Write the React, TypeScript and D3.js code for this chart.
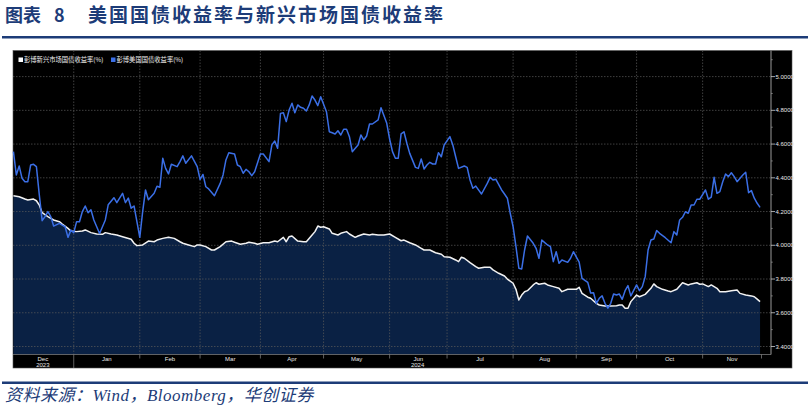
import React from 'react';
import * as d3 from 'd3';

// ---------- DATA ----------
const usDates = [
  '2023-12-01','2023-12-04','2023-12-05','2023-12-06','2023-12-07','2023-12-08','2023-12-11','2023-12-12','2023-12-13','2023-12-14','2023-12-15','2023-12-18','2023-12-19','2023-12-20','2023-12-21','2023-12-25','2023-12-26','2023-12-27','2023-12-28','2023-12-29',
  '2024-01-01','2024-01-02','2024-01-03','2024-01-04','2024-01-05','2024-01-08','2024-01-09','2024-01-10','2024-01-12','2024-01-16','2024-01-17','2024-01-19','2024-01-22','2024-01-24','2024-01-25','2024-01-26','2024-01-29','2024-01-30',
  '2024-02-01','2024-02-02','2024-02-05','2024-02-06','2024-02-08','2024-02-09','2024-02-12','2024-02-13','2024-02-14','2024-02-15','2024-02-16','2024-02-20','2024-02-21','2024-02-22','2024-02-23','2024-02-27','2024-02-29',
  '2024-03-01','2024-03-04','2024-03-05','2024-03-06','2024-03-08','2024-03-12','2024-03-13','2024-03-14','2024-03-15','2024-03-19','2024-03-20','2024-03-21','2024-03-22','2024-03-25','2024-03-26','2024-03-27','2024-03-28',
  '2024-04-01','2024-04-02','2024-04-04','2024-04-05','2024-04-08','2024-04-09','2024-04-10','2024-04-11','2024-04-12','2024-04-15','2024-04-16','2024-04-17','2024-04-18','2024-04-19','2024-04-22','2024-04-23','2024-04-24','2024-04-25','2024-04-26','2024-04-29','2024-04-30',
  '2024-05-02','2024-05-03','2024-05-06','2024-05-07','2024-05-08','2024-05-09','2024-05-10','2024-05-13','2024-05-14','2024-05-15','2024-05-17','2024-05-20','2024-05-21','2024-05-22','2024-05-23','2024-05-24','2024-05-28','2024-05-29','2024-05-31',
  '2024-06-03','2024-06-04','2024-06-05','2024-06-06','2024-06-07','2024-06-10','2024-06-11','2024-06-12','2024-06-14','2024-06-17','2024-06-18','2024-06-19','2024-06-20','2024-06-21','2024-06-24','2024-06-25','2024-06-26','2024-06-27','2024-06-28',
  '2024-07-02','2024-07-03','2024-07-04','2024-07-05','2024-07-09','2024-07-10','2024-07-11','2024-07-12','2024-07-15','2024-07-17','2024-07-19','2024-07-22','2024-07-23','2024-07-24','2024-07-26','2024-07-29','2024-07-30','2024-07-31',
  '2024-08-01','2024-08-02','2024-08-05','2024-08-06','2024-08-07','2024-08-08','2024-08-12','2024-08-13','2024-08-14','2024-08-15','2024-08-19','2024-08-20','2024-08-21','2024-08-22','2024-08-23','2024-08-26','2024-08-28','2024-08-29','2024-08-30',
  '2024-09-03','2024-09-04','2024-09-06','2024-09-09','2024-09-10','2024-09-11','2024-09-12','2024-09-13','2024-09-16','2024-09-17','2024-09-18','2024-09-19','2024-09-20','2024-09-23','2024-09-24','2024-09-25','2024-09-26','2024-09-27',
  '2024-10-01','2024-10-02','2024-10-03','2024-10-04','2024-10-07','2024-10-08','2024-10-09','2024-10-10','2024-10-11','2024-10-15','2024-10-17','2024-10-18','2024-10-21','2024-10-22','2024-10-23','2024-10-24','2024-10-25','2024-10-28','2024-10-29','2024-10-30','2024-10-31',
  '2024-11-04','2024-11-05','2024-11-06','2024-11-07','2024-11-08','2024-11-11','2024-11-12','2024-11-13','2024-11-14','2024-11-15','2024-11-18','2024-11-19','2024-11-21','2024-11-22','2024-11-25','2024-11-26','2024-11-27','2024-11-28','2024-11-29',
];
const usYield = [
  4.555,4.417,4.47,4.397,4.377,4.377,4.476,4.48,4.466,4.30,4.146,4.17,4.20,4.17,4.114,4.13,4.12,4.11,4.047,4.09,
  4.075,4.14,4.14,4.20,4.233,4.193,4.21,4.15,4.07,4.15,4.24,4.282,4.253,4.308,4.253,4.28,4.22,4.233,
  4.047,4.20,4.328,4.27,4.308,4.35,4.344,4.516,4.456,4.423,4.48,4.466,4.496,4.53,4.486,4.53,4.466,
  4.39,4.42,4.347,4.334,4.294,4.367,4.417,4.506,4.549,4.541,4.476,4.466,4.427,4.45,4.436,4.413,4.436,
  4.541,4.541,4.496,4.595,4.618,4.575,4.782,4.786,4.733,4.802,4.842,4.786,4.832,4.818,4.812,4.796,4.832,4.885,4.861,4.828,4.881,
  4.792,4.673,4.667,4.66,4.679,4.654,4.688,4.688,4.644,4.555,4.595,4.654,4.624,4.648,4.719,4.719,4.743,4.816,4.723,
  4.63,4.555,4.516,4.516,4.66,4.673,4.605,4.545,4.462,4.456,4.512,4.452,4.476,4.492,4.482,4.482,4.549,4.525,4.595,
  4.644,4.595,4.525,4.456,4.47,4.462,4.387,4.338,4.351,4.304,4.367,4.403,4.387,4.391,4.328,4.304,4.279,4.19,
  4.11,3.992,3.864,3.86,3.972,4.055,4.012,3.982,3.923,4.031,4.002,3.992,3.903,3.962,3.893,3.913,3.899,3.923,3.962,
  3.90,3.804,3.78,3.717,3.719,3.656,3.686,3.70,3.656,3.627,3.656,3.711,3.705,3.711,3.68,3.731,3.761,3.70,
  3.765,3.731,3.755,3.814,3.972,4.031,4.037,4.087,4.071,4.045,4.015,4.081,4.061,4.15,4.166,4.199,4.19,4.239,4.239,4.273,4.273,
  4.328,4.273,4.285,4.403,4.308,4.318,4.377,4.423,4.407,4.43,4.407,4.377,4.417,4.433,4.312,4.324,4.279,4.249,4.225,
];

const emDates = [
  '2023-12-01','2023-12-05','2023-12-07','2023-12-08','2023-12-12','2023-12-13','2023-12-14','2023-12-15','2023-12-19','2023-12-21','2023-12-25','2023-12-26','2023-12-28','2023-12-29',
  '2024-01-02','2024-01-04','2024-01-05','2024-01-09','2024-01-11','2024-01-15','2024-01-16','2024-01-18','2024-01-22','2024-01-24','2024-01-29','2024-01-30','2024-01-31',
  '2024-02-02','2024-02-06','2024-02-08','2024-02-09','2024-02-13','2024-02-15','2024-02-19','2024-02-21','2024-02-22','2024-02-26','2024-02-28','2024-02-29',
  '2024-03-01','2024-03-05','2024-03-07','2024-03-08','2024-03-12','2024-03-14','2024-03-18','2024-03-19','2024-03-21','2024-03-25','2024-03-26','2024-03-28','2024-03-29',
  '2024-04-02','2024-04-04','2024-04-08','2024-04-09','2024-04-11','2024-04-12','2024-04-15','2024-04-16','2024-04-18','2024-04-22','2024-04-23','2024-04-25','2024-04-26','2024-04-29','2024-04-30',
  '2024-05-01','2024-05-03','2024-05-06','2024-05-08','2024-05-09','2024-05-13','2024-05-14','2024-05-16','2024-05-17','2024-05-21','2024-05-23','2024-05-24','2024-05-28','2024-05-30',
  '2024-06-03','2024-06-05','2024-06-07','2024-06-10','2024-06-12','2024-06-14','2024-06-18','2024-06-19','2024-06-21','2024-06-25','2024-06-27','2024-06-28',
  '2024-07-02','2024-07-04','2024-07-05','2024-07-08','2024-07-09','2024-07-11','2024-07-15','2024-07-16','2024-07-18','2024-07-22','2024-07-23','2024-07-25','2024-07-29','2024-07-30',
  '2024-08-01','2024-08-02','2024-08-05','2024-08-06','2024-08-07','2024-08-08','2024-08-12','2024-08-13','2024-08-14','2024-08-16','2024-08-19','2024-08-21','2024-08-23','2024-08-26','2024-08-28','2024-08-29',
  '2024-09-02','2024-09-03','2024-09-04','2024-09-06','2024-09-09','2024-09-11','2024-09-12','2024-09-16','2024-09-18','2024-09-20','2024-09-23','2024-09-24','2024-09-25','2024-09-26','2024-09-27',
  '2024-10-01','2024-10-02','2024-10-04','2024-10-08','2024-10-09','2024-10-10','2024-10-14','2024-10-16','2024-10-17','2024-10-21','2024-10-22','2024-10-23','2024-10-25','2024-10-28','2024-10-30','2024-10-31',
  '2024-11-01','2024-11-05','2024-11-06','2024-11-08','2024-11-11','2024-11-13','2024-11-15','2024-11-19','2024-11-20','2024-11-22','2024-11-26','2024-11-27','2024-11-28','2024-11-29',
];
const emYield = [
  4.294,4.288,4.274,4.268,4.274,4.264,4.239,4.193,4.17,4.15,4.14,4.126,4.10,4.085,
  4.081,4.085,4.091,4.075,4.067,4.065,4.075,4.067,4.061,4.051,4.036,4.012,3.998,
  4.002,4.025,4.021,4.031,4.041,4.047,4.041,4.021,4.012,4.002,3.992,4.002,
  4.002,3.992,3.972,3.972,3.992,4.021,4.025,4.018,4.006,4.012,4.018,4.012,4.006,
  4.015,4.015,4.025,4.021,4.047,4.021,4.051,4.055,4.025,4.021,4.021,4.061,4.081,4.114,4.107,
  4.11,4.097,4.071,4.061,4.071,4.081,4.067,4.047,4.055,4.067,4.061,4.065,4.061,4.061,
  4.067,4.047,4.027,4.031,4.015,4.002,3.982,3.972,3.972,3.956,3.947,3.932,
  3.929,3.913,3.903,3.929,3.923,3.897,3.873,3.864,3.87,3.87,3.854,3.834,3.818,3.80,
  3.775,3.739,3.676,3.705,3.725,3.731,3.765,3.778,3.769,3.775,3.765,3.755,3.745,3.725,3.739,3.739,
  3.739,3.751,3.715,3.692,3.686,3.656,3.646,3.64,3.64,3.642,3.646,3.646,3.627,3.627,3.666,
  3.705,3.695,3.709,3.745,3.771,3.755,3.739,3.729,3.725,3.739,3.759,3.778,3.765,3.771,3.778,3.769,
  3.771,3.755,3.765,3.745,3.725,3.725,3.731,3.735,3.715,3.705,3.70,3.695,3.681,3.666,
];

const yTicks = [3.4, 3.6, 3.8, 4.0, 4.2, 4.4, 4.6, 4.8, 5.0];
const yMinorTicks = [3.5, 3.7, 3.9, 4.1, 4.3, 4.5, 4.7, 4.9, 5.1];
const monthLabels = ['Dec', 'Jan', 'Feb', 'Mar', 'Apr', 'May', 'Jun', 'Jul', 'Aug', 'Sep', 'Oct', 'Nov'];
const yearLabels = ['2023', '2024'];
const legendLabels = ['彭博新兴市场国债收益率(%)', '彭博美国国债收益率(%)'];
const titlePrefix = '图表';
const titleNumber = '8';
const titleText = '美国国债收益率与新兴市场国债收益率';
const sourceText = '资料来源：Wind，Bloomberg，华创证券';

// ---------- STYLE ----------
const NAVY = '#1d3c78';
const BLUE = '#3b6fe6';
const WHITE_LINE = '#f2f2f2';
const FILL = '#0a2144';
const GRID = '#5a5a5a';

export default function App() {
  const fmt = d3.timeFormat('%Y-%m-%d');
  const parse = d3.timeParse('%Y-%m-%d');
  const bizDays = d3
    .timeDay.range(new Date(2023, 11, 1), new Date(2024, 10, 30))
    .filter((d) => d.getDay() !== 0 && d.getDay() !== 6);
  const idx = new Map(bizDays.map((d, i) => [fmt(d), i] as [string, number]));
  const bis = d3.bisector((d: Date) => d).left;
  const toIndex = (s: string) => {
    const v = idx.get(s);
    if (v !== undefined) return v;
    return bis(bizDays, parse(s) as Date);
  };
  const N = bizDays.length;

  // plot geometry
  const left = 13, right = 771, top = 50.5, bottom = 354.5, bandBottom = 368;
  const x = d3.scaleLinear().domain([-0.5, N - 0.5]).range([12, 761.5]);
  const y = d3.scaleLinear().domain([3.4, 5.0]).range([346.5, 76.6]);

  const us = usDates.map((d, i) => ({ i: toIndex(d), v: usYield[i] }));
  const em = emDates.map((d, i) => ({ i: toIndex(d), v: emYield[i] }));

  const line = d3.line<{ i: number; v: number }>().x((d) => x(d.i)).y((d) => y(d.v));
  const area = d3
    .area<{ i: number; v: number }>()
    .x((d) => x(d.i))
    .y0(bottom)
    .y1((d) => y(d.v));

  // month boundaries (first business day in each month)
  const months = d3.timeMonth.range(new Date(2023, 11, 1), new Date(2024, 11, 1));
  const firstIdx = months.map((m) => bizDays.findIndex((d) => d >= m));
  const bounds = firstIdx.map((fi, k) => (k === 0 ? x(-0.5) : x(fi)));
  bounds.push(x(N - 0.5));

  const tickFont = 'Liberation Sans, Arial, sans-serif';

  return (
    <div>
      <svg
        width={810}
        height={414}
        style={{ position: 'absolute', left: 0, top: 0, background: '#fff' }}
      >
        {/* Title */}
        <text x={5} y={22} fill={NAVY} fontFamily="Noto Sans CJK SC" fontWeight={700} fontSize={18}>
          <tspan letterSpacing={0}>{titlePrefix}</tspan>
          <tspan x={54}>{titleNumber}</tspan>
          <tspan x={88} fontSize={19} letterSpacing={2}>{titleText}</tspan>
        </text>
        <line x1={2} x2={808} y1={37.2} y2={37.2} stroke={NAVY} strokeWidth={2.6} />

        {/* Chart panel */}
        <rect x={13} y={top} width={779} height={bandBottom - top} fill="#000" stroke="#555" strokeWidth={0.6} />

        {/* area under EM */}
        <path d={area(em) || ''} fill={FILL} />

        {/* grid */}
        <g stroke={GRID} strokeWidth={0.7} strokeDasharray="1.5 1.5">
          {yTicks.map((t) => (
            <line key={'h' + t} x1={left} x2={right} y1={y(t)} y2={y(t)} />
          ))}
          {firstIdx.slice(1).map((fi, k) => (
            <line key={'v' + k} x1={x(fi)} x2={x(fi)} y1={top} y2={bottom} />
          ))}
        </g>

        {/* series */}
        <path d={line(em) || ''} fill="none" stroke={WHITE_LINE} strokeWidth={1.5} strokeLinejoin="round" />
        <path d={line(us) || ''} fill="none" stroke={BLUE} strokeWidth={1.5} strokeLinejoin="round" />

        {/* bottom axis band */}
        <line x1={left} x2={right} y1={bottom} y2={bottom} stroke="#777" strokeWidth={0.8} />
        {bounds.slice(1, -1).map((b, k) => (
          <line
            key={'sep' + k}
            x1={b}
            x2={b}
            y1={bottom}
            y2={k === 0 ? bandBottom : bottom + 4}
            stroke="#888"
            strokeWidth={0.7}
          />
        ))}
        <line x1={bounds[bounds.length - 1]} x2={bounds[bounds.length - 1]} y1={bottom} y2={bottom + 4} stroke="#888" strokeWidth={0.7} />
        {monthLabels.map((m, k) => (
          <text
            key={'m' + m}
            x={(bounds[k] + bounds[k + 1]) / 2}
            y={361}
            fill="#e8e8e8"
            fontSize={6}
            fontFamily={tickFont}
            textAnchor="middle"
          >
            {m}
          </text>
        ))}
        <text x={(bounds[0] + bounds[1]) / 2} y={367} fill="#e8e8e8" fontSize={6} fontFamily={tickFont} textAnchor="middle">
          {yearLabels[0]}
        </text>
        <text x={(bounds[1] + bounds[12]) / 2} y={367} fill="#e8e8e8" fontSize={6} fontFamily={tickFont} textAnchor="middle">
          {yearLabels[1]}
        </text>

        {/* right axis */}
        <line x1={right} x2={right} y1={top} y2={bottom} stroke="#9a9a9a" strokeWidth={1} />
        {yMinorTicks.map((t) => (
          <line key={'mn' + t} x1={right} x2={right + 1.8} y1={y(t)} y2={y(t)} stroke="#9a9a9a" strokeWidth={0.7} />
        ))}
        {yTicks.map((t) => (
          <g key={'yt' + t}>
            <line x1={right} x2={right + 4} y1={y(t)} y2={y(t)} stroke="#cfcfcf" strokeWidth={0.8} />
            <text x={right + 4.5} y={y(t) + 2.1} fill="#e6e6e6" fontSize={6} fontFamily={tickFont}>
              {d3.format('.4f')(t)}
            </text>
          </g>
        ))}

        {/* legend */}
        <rect x={18.5} y={57.5} width={4.5} height={4.5} fill="#fff" />
        <text x={24} y={62.3} fill="#f0f0f0" fontSize={6.3} fontFamily="Noto Sans CJK SC">
          {legendLabels[0]}
        </text>
        <rect x={111} y={57.5} width={4.5} height={4.5} fill={BLUE} />
        <text x={116.5} y={62.3} fill="#f0f0f0" fontSize={6.3} fontFamily="Noto Sans CJK SC">
          {legendLabels[1]}
        </text>

        {/* footer */}
        <line x1={2} x2={808} y1={382.8} y2={382.8} stroke={NAVY} strokeWidth={2.6} />
        <text
          x={5}
          y={401}
          fill={NAVY}
          fontSize={17}
          letterSpacing={0.5}
          fontStyle="italic"
          fontFamily="Liberation Serif, Noto Sans CJK SC, serif"
        >
          {sourceText}
        </text>
      </svg>
    </div>
  );
}
